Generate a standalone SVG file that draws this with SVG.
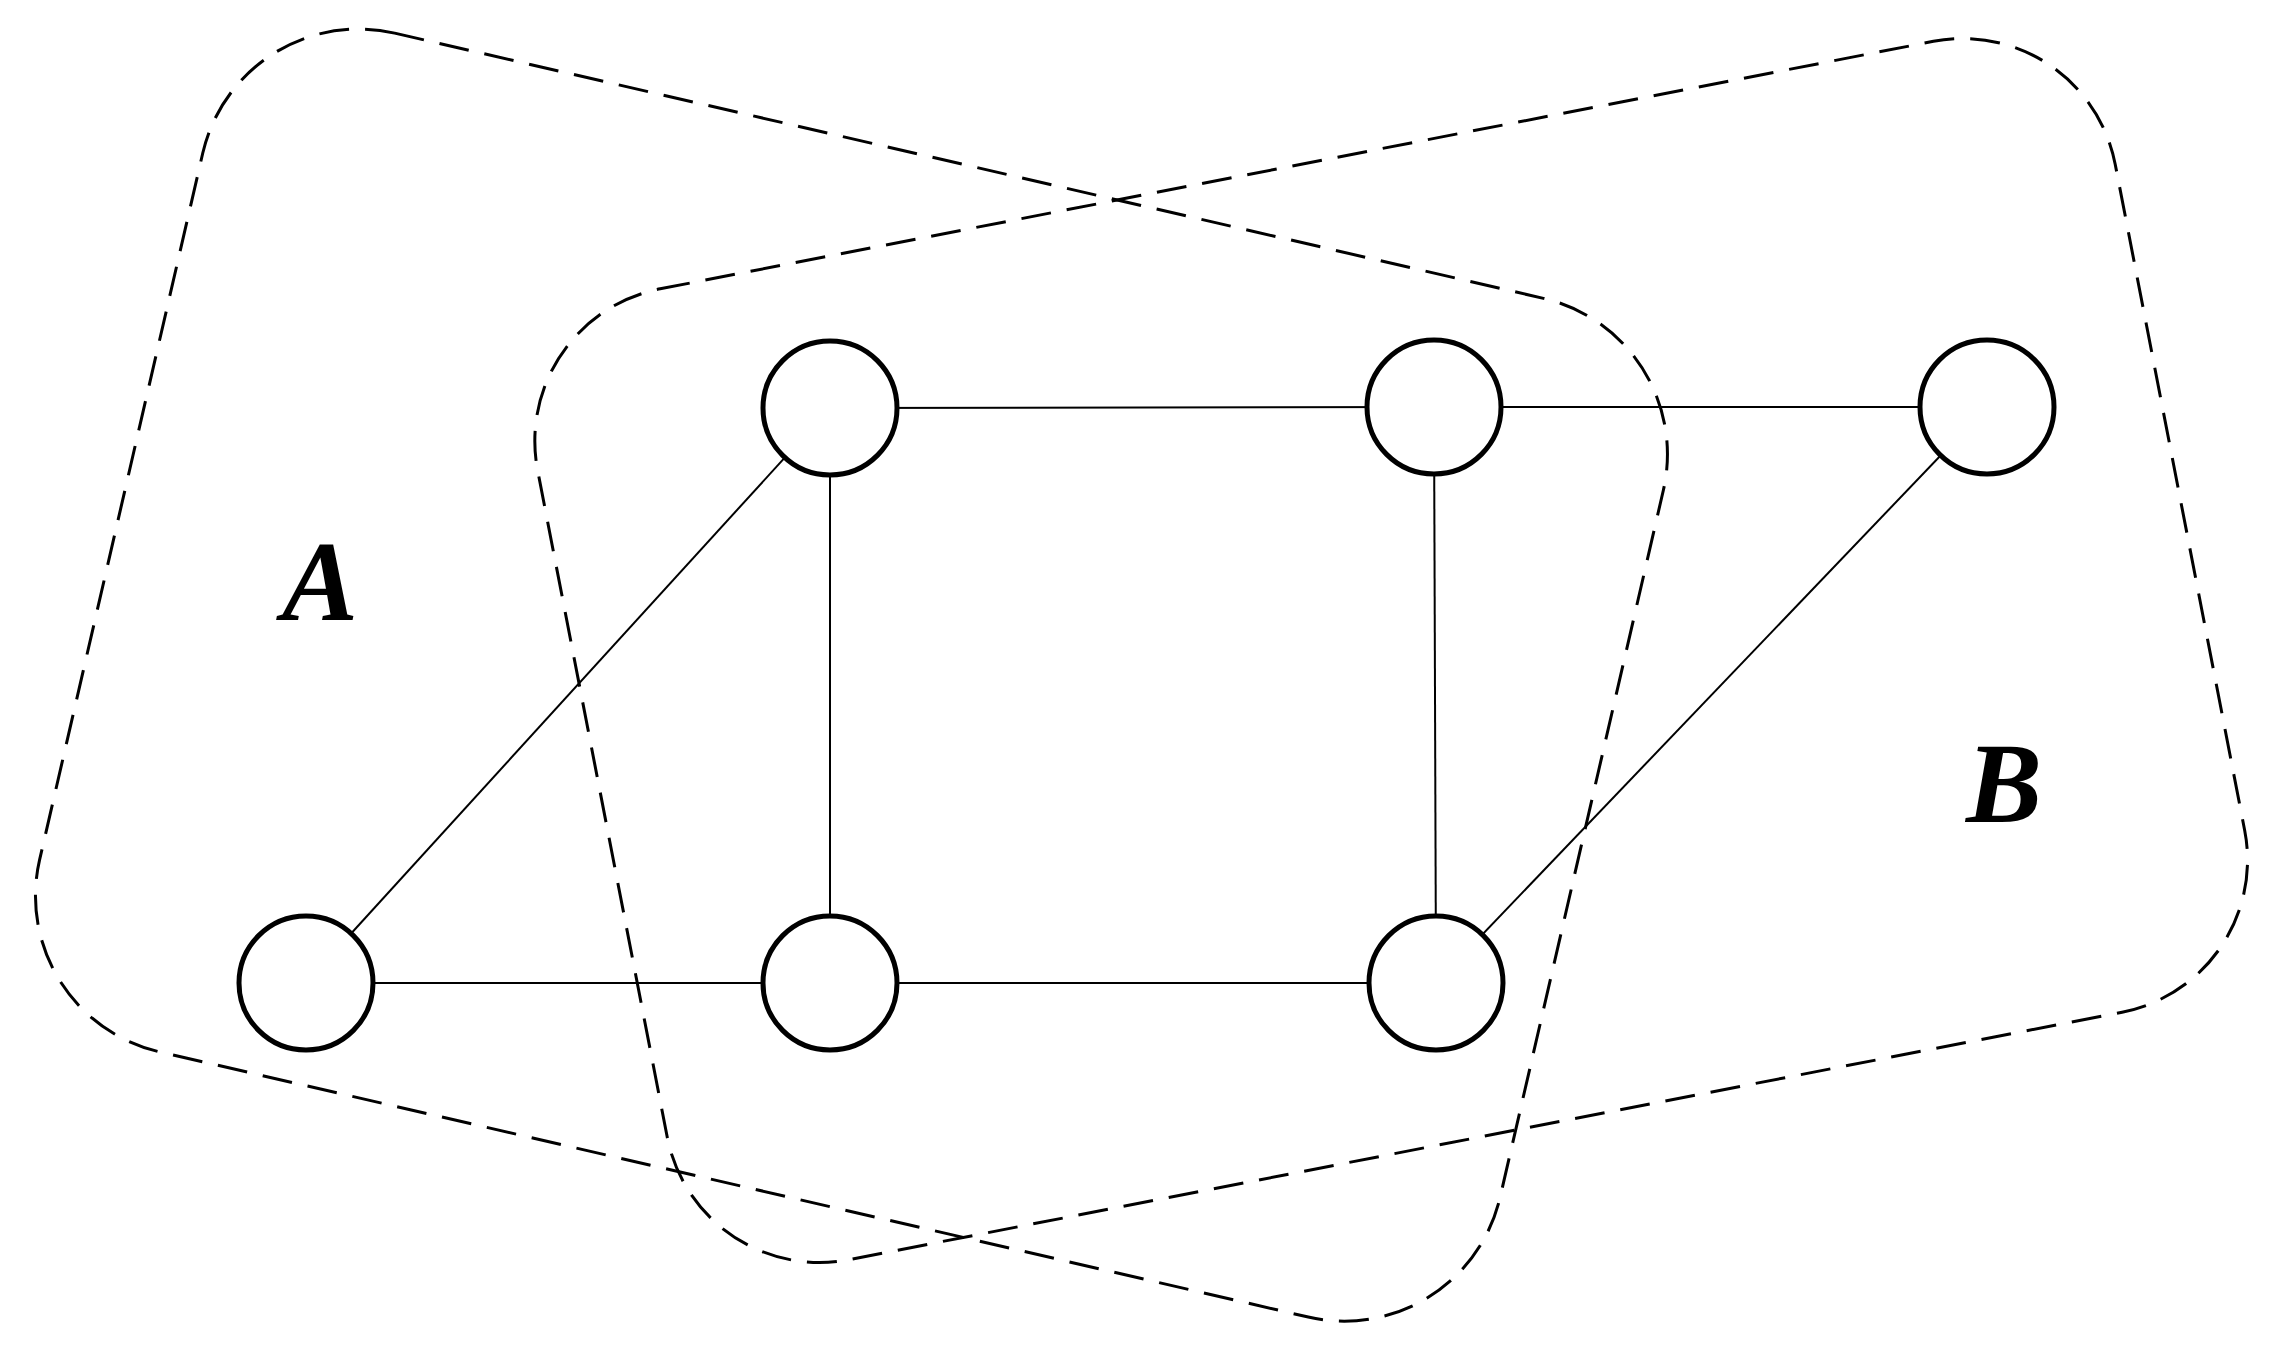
<svg xmlns="http://www.w3.org/2000/svg" width="2270" height="1348" viewBox="0 0 2270 1348">
  <style>
    .region { fill: none; stroke: #000; stroke-width: 3; stroke-dasharray: 30 16; }
    .edge { stroke: #000; stroke-width: 2; fill: none; }
    .node { fill: #fff; stroke: #000; stroke-width: 5; }
    .label { font-family: "Liberation Serif", "DejaVu Serif", serif; font-weight: bold; font-style: italic; font-size: 114px; fill: #000; text-anchor: middle; }
  </style>
  <g id="regions">
    <rect id="regionA" class="region" x="232" y="-56.5" width="1499" height="1045.5" rx="160" ry="160" transform="rotate(13)"/>
    <rect id="regionB" class="region" x="438" y="409.5" width="1607" height="989" rx="155" ry="155" transform="rotate(-11)"/>
  </g>
  <g id="connectors">
    <line class="edge" x1="830" y1="408" x2="1434" y2="407"/>
    <line class="edge" x1="1434" y1="407" x2="1987" y2="407"/>
    <line class="edge" x1="830" y1="408" x2="830" y2="983"/>
    <line class="edge" x1="1434" y1="407" x2="1436" y2="983"/>
    <line class="edge" x1="306" y1="983" x2="830" y2="983"/>
    <line class="edge" x1="830" y1="983" x2="1436" y2="983"/>
    <line class="edge" x1="830" y1="408" x2="306" y2="983"/>
    <line class="edge" x1="1987" y1="407" x2="1436" y2="983"/>
  </g>
  <g id="n1"><circle class="node" cx="830" cy="408" r="67"/></g>
  <g id="n2"><circle class="node" cx="1434" cy="407" r="67"/></g>
  <g id="n3"><circle class="node" cx="1987" cy="407" r="67"/></g>
  <g id="n4"><circle class="node" cx="306" cy="983" r="67"/></g>
  <g id="n5"><circle class="node" cx="830" cy="983" r="67"/></g>
  <g id="n6"><circle class="node" cx="1436" cy="983" r="67"/></g>
  <g id="labelA"><text class="label" x="320" y="620">A</text></g>
  <g id="labelB"><text class="label" x="2004" y="822">B</text></g>
</svg>
